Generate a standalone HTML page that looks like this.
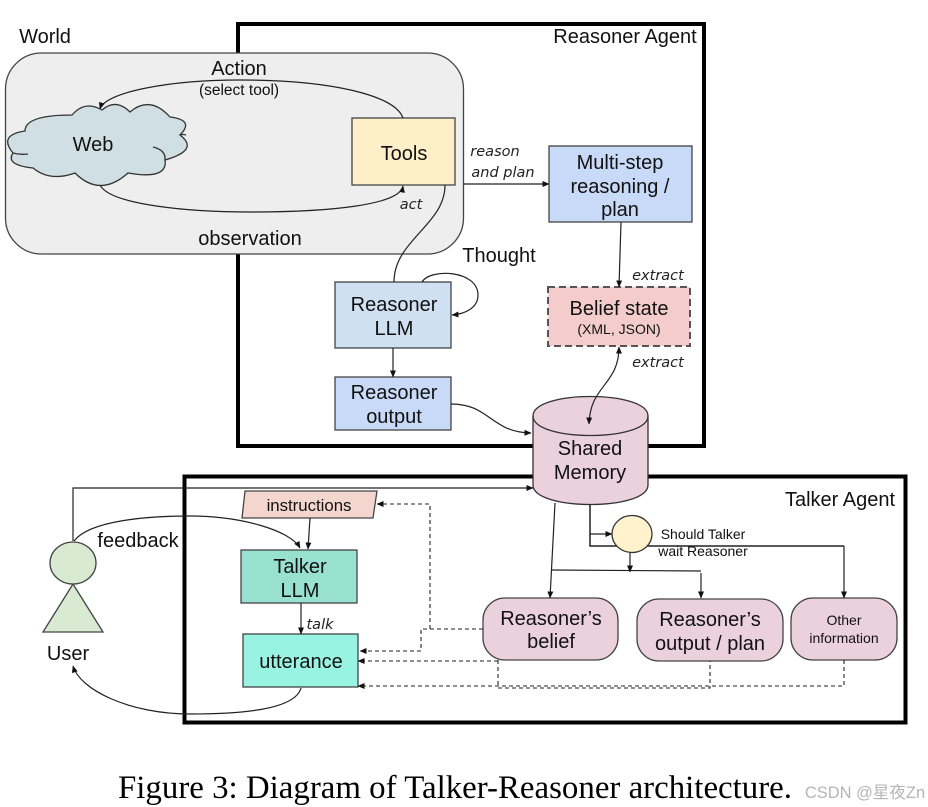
<!DOCTYPE html>
<html><head><meta charset="utf-8"><style>
html,body{margin:0;padding:0;background:#fff}
svg{display:block}
text{font-family:"Liberation Sans",sans-serif;fill:#111;text-anchor:middle}
.b{font-size:20px}.m{font-size:20px}.s{font-size:14px}
.i{font-family:"DejaVu Sans",sans-serif;font-style:italic;font-size:14.500px;fill:#222}
.l{fill:none;stroke:#222;stroke-width:1.2}
.d{fill:none;stroke:#222;stroke-width:1.1;stroke-dasharray:4 3}
.n{stroke:#444;stroke-width:1.3}
</style></head><body>
<svg width="928" height="807" viewBox="0 0 928 807" xmlns="http://www.w3.org/2000/svg">
<defs><marker id="a" markerWidth="8" markerHeight="8" refX="6.5" refY="3" orient="auto-start-reverse" markerUnits="userSpaceOnUse"><path d="M0 0L7 3L0 6z" fill="#111"/></marker></defs>
<rect x="238" y="24" width="466" height="422" fill="#fff" stroke="#000" stroke-width="4"/>
<rect x="184.500" y="476.500" width="721" height="246" fill="none" stroke="#000" stroke-width="4"/>
<rect x="5.500" y="53" width="458" height="201" rx="36" fill="#eee" stroke="#444" stroke-width="1.300"/>
<path d="M72 115Q85 100 102 110Q116 98 130 112Q150 95 170 117Q195 120 180 135Q200 150 165 160Q168 180 128 173Q100 198 75 173Q50 182 33 168Q5 165 13 153Q-2 135 25 131Q25 115 72 115Z" fill="#cfdfe3" stroke="#333" stroke-width="1.300"/>
<path d="M153 147Q166 150 165 160M13 153Q20 155 28 154M186 135Q183 134 180 135" fill="none" stroke="#333" stroke-width="1.300"/>
<rect class="n" x="352" y="118" width="103" height="67" fill="#fdf0c8"/>
<rect class="n" x="335" y="282" width="116" height="66" fill="#cfe0f3"/>
<rect class="n" x="335" y="377" width="116" height="53" fill="#c9daf8"/>
<rect class="n" x="549" y="146" width="143" height="76" fill="#c9daf8"/>
<rect x="548" y="287" width="142" height="59" fill="#f4cccc" stroke="#555" stroke-width="2" stroke-dasharray="7 4"/>
<path d="M533 416C533 390 648 390 648 416V485C648 511 533 511 533 485Z" fill="#ead1dc" stroke="#333" stroke-width="1.300"/>
<path d="M533 416C533 442 648 442 648 416" fill="none" stroke="#333" stroke-width="1.300"/>
<path class="n" d="M245 491H377L373 518H242Z" fill="#f4d6ce"/>
<rect class="n" x="241" y="550" width="116" height="53" fill="#98e0d0"/>
<rect class="n" x="243" y="634" width="115" height="53" fill="#99f3e3"/>
<path class="n" d="M73 584L43 632H103Z" fill="#d9ead3"/>
<ellipse class="n" cx="73" cy="563" rx="23" ry="21" fill="#d9ead3"/>
<rect class="n" x="483" y="598" width="135" height="62" rx="22" fill="#ead1dc"/>
<rect class="n" x="637" y="599" width="146" height="62" rx="22" fill="#ead1dc"/>
<rect class="n" x="791" y="598" width="106" height="62" rx="22" fill="#ead1dc"/>
<path class="l" marker-end="url(#a)" d="M403 118C395 95 330 80 240 80C170 80 105 92 100 109"/>
<path class="l" marker-end="url(#a)" d="M100 185C110 205 190 212 250 212C330 212 400 205 403 186"/>
<path class="l" d="M445 185C445 225 394 240 394 282"/>
<path class="l" marker-end="url(#a)" d="M464 184H549"/>
<path class="l" marker-end="url(#a)" d="M621 222L619 287"/>
<path class="l" marker-end="url(#a)" d="M422 282C430 268 478 270 478 295C478 308 465 314 452 315"/>
<path class="l" marker-end="url(#a)" d="M393 348V377"/>
<path class="l" marker-end="url(#a)" d="M451 404C490 404 490 432 531 433"/>
<path class="l" marker-start="url(#a)" marker-end="url(#a)" d="M619 347C619 385 590 385 589 424"/>
<path class="l" marker-end="url(#a)" d="M73 541V488H533"/>
<path class="l" marker-end="url(#a)" d="M74 541C90 520 150 516 190 516C240 516 290 530 300 548"/>
<path class="l" marker-end="url(#a)" d="M310 518L308 549"/>
<path class="l" marker-end="url(#a)" d="M301 603V634"/>
<path class="l" marker-end="url(#a)" d="M301 688C295 710 240 714 190 714C130 714 80 690 73 666"/>
<path class="l" marker-end="url(#a)" d="M555 503L550 598"/>
<path class="l" d="M551 570L701 571"/>
<path class="l" marker-end="url(#a)" d="M701 573V598"/>
<path class="l" marker-end="url(#a)" d="M630 552V572"/>
<path class="l" style="stroke-width:1.500" d="M590 504V546H844"/>
<path class="l" marker-end="url(#a)" d="M590 534H612"/>
<path class="l" marker-end="url(#a)" d="M844 546V598"/>
<ellipse cx="632" cy="534" rx="20" ry="18.500" fill="#fff2cc" stroke="#333" stroke-width="1.300"/>
<path class="d" marker-end="url(#a)" d="M483 629H421V651H360"/>
<path class="d" marker-end="url(#a)" d="M430 629V504H377"/>
<path class="d" marker-end="url(#a)" d="M498 661H358"/>
<path class="d" marker-end="url(#a)" d="M844 660V686H358"/>
<path class="d" d="M498 660V688H710V661"/>
<text class="b" x="45" y="43">World</text>
<text class="b" x="625" y="43">Reasoner Agent</text>
<text class="b" x="840" y="506">Talker Agent</text>
<text class="m" x="239" y="75">Action</text>
<text x="239" y="95" style="font-size:15.500px">(select tool)</text>
<text class="b" x="93" y="151">Web</text>
<text class="b" x="404" y="160">Tools</text>
<text class="i" x="411" y="209">act</text>
<text class="m" x="250" y="245">observation</text>
<text class="i" x="495" y="156">reason</text>
<text class="i" x="503" y="177">and plan</text>
<text class="b" x="620" y="169">Multi-step</text>
<text class="b" x="620" y="193">reasoning /</text>
<text class="b" x="620" y="216">plan</text>
<text class="m" x="499" y="262">Thought</text>
<text class="i" x="658" y="280">extract</text>
<text class="i" x="658" y="367">extract</text>
<text class="b" x="394" y="311">Reasoner</text>
<text class="b" x="394" y="335">LLM</text>
<text class="b" x="394" y="399">Reasoner</text>
<text class="b" x="394" y="423">output</text>
<text class="b" x="619" y="315">Belief state</text>
<text x="619" y="334" style="font-size:14px">(XML, JSON)</text>
<text class="b" x="590" y="455">Shared</text>
<text class="b" x="590" y="479">Memory</text>
<text x="309" y="511" style="font-size:16.800px">instructions</text>
<text class="m" x="138" y="547">feedback</text>
<text class="b" x="300" y="573">Talker</text>
<text class="b" x="300" y="597">LLM</text>
<text class="i" x="320" y="629">talk</text>
<text class="b" x="301" y="668">utterance</text>
<text class="m" x="68" y="660">User</text>
<text class="s" x="703" y="539">Should Talker</text>
<text class="s" x="703" y="556">wait Reasoner</text>
<text class="b" x="551" y="625">Reasoner’s</text>
<text class="b" x="551" y="648">belief</text>
<text class="b" x="710" y="626">Reasoner’s</text>
<text class="b" x="710" y="650">output / plan</text>
<text class="s" x="844" y="625">Other</text>
<text class="s" x="844" y="643">information</text>
<text x="455" y="798" textLength="674" lengthAdjust="spacingAndGlyphs" style="font-family:'Liberation Serif',serif;font-size:33px;fill:#000">Figure 3: Diagram of Talker-Reasoner architecture.</text>
<text x="865" y="798" style="font-family:'Liberation Sans','Noto Sans CJK SC',sans-serif;font-size:16.500px;fill:#b5b5b5">CSDN @星夜Zn</text>
</svg>
</body></html>
